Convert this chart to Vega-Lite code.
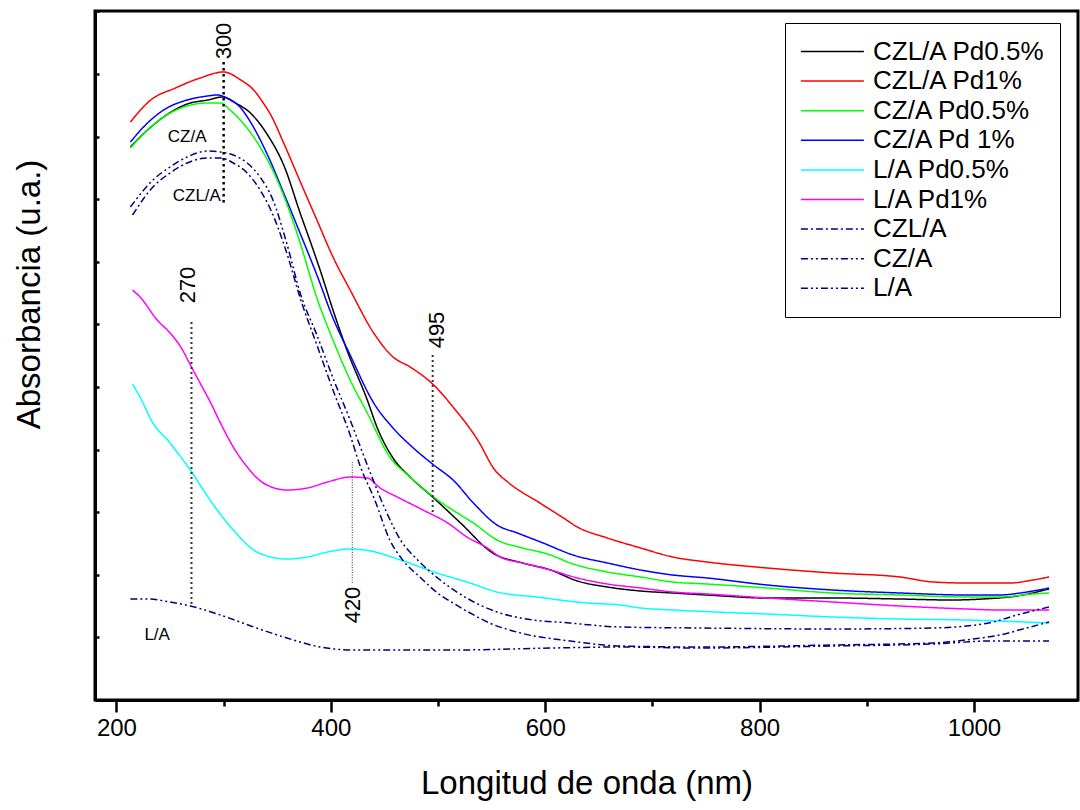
{
  "$schema": "https://vega.github.io/schema/vega-lite/v6.json",
  "width": 983,
  "height": 689,
  "autosize": "none",
  "padding": {"left": 95, "top": 11, "right": 2, "bottom": 110},
  "background": "white",
  "config": {
    "font": "Liberation Sans",
    "view": {"stroke": "black", "strokeWidth": 3},
    "axis": {"domainColor": "black", "domainWidth": 3, "tickColor": "black", "tickWidth": 2.5, "grid": false, "labelColor": "black", "titleColor": "black", "titleFontWeight": "normal", "labelFont": "Liberation Sans", "titleFont": "Liberation Sans"}
  },
  "datasets": {
    "spectra": [
      {"s":"CZL/A Pd1%","x":213,"y":578},{"s":"CZL/A Pd1%","x":232,"y":600},{"s":"CZL/A Pd1%","x":255,"y":612},{"s":"CZL/A Pd1%","x":278,"y":622},{"s":"CZL/A Pd1%","x":300,"y":628},{"s":"CZL/A Pd1%","x":316,"y":620},{"s":"CZL/A Pd1%","x":328,"y":610},{"s":"CZL/A Pd1%","x":337,"y":597},{"s":"CZL/A Pd1%","x":344,"y":585},{"s":"CZL/A Pd1%","x":356,"y":557},{"s":"CZL/A Pd1%","x":372,"y":517},{"s":"CZL/A Pd1%","x":387,"y":480},{"s":"CZL/A Pd1%","x":402,"y":443},{"s":"CZL/A Pd1%","x":418,"y":410},{"s":"CZL/A Pd1%","x":440,"y":367},{"s":"CZL/A Pd1%","x":458,"y":343},{"s":"CZL/A Pd1%","x":474,"y":333},{"s":"CZL/A Pd1%","x":496,"y":315},{"s":"CZL/A Pd1%","x":514,"y":293},{"s":"CZL/A Pd1%","x":537,"y":260},{"s":"CZL/A Pd1%","x":553,"y":230},{"s":"CZL/A Pd1%","x":565,"y":218},{"s":"CZL/A Pd1%","x":595,"y":197},{"s":"CZL/A Pd1%","x":617,"y":182},{"s":"CZL/A Pd1%","x":630,"y":173},{"s":"CZL/A Pd1%","x":658,"y":162},{"s":"CZL/A Pd1%","x":689,"y":152},{"s":"CZL/A Pd1%","x":719,"y":143},{"s":"CZL/A Pd1%","x":751,"y":138},{"s":"CZL/A Pd1%","x":807,"y":132},{"s":"CZL/A Pd1%","x":868,"y":127},{"s":"CZL/A Pd1%","x":931,"y":123},{"s":"CZL/A Pd1%","x":962,"y":118},{"s":"CZL/A Pd1%","x":993,"y":117},{"s":"CZL/A Pd1%","x":1034,"y":117},{"s":"CZL/A Pd1%","x":1055,"y":120},{"s":"CZL/A Pd1%","x":1070,"y":123},

      {"s":"CZL/A Pd0.5%","x":213,"y":553},{"s":"CZL/A Pd0.5%","x":229,"y":570},{"s":"CZL/A Pd0.5%","x":244,"y":583},{"s":"CZL/A Pd0.5%","x":266,"y":596},{"s":"CZL/A Pd0.5%","x":285,"y":600},{"s":"CZL/A Pd0.5%","x":299,"y":603},{"s":"CZL/A Pd0.5%","x":311,"y":597},{"s":"CZL/A Pd0.5%","x":325,"y":587},{"s":"CZL/A Pd0.5%","x":341,"y":565},{"s":"CZL/A Pd0.5%","x":356,"y":535},{"s":"CZL/A Pd0.5%","x":372,"y":485},{"s":"CZL/A Pd0.5%","x":381,"y":458},{"s":"CZL/A Pd0.5%","x":390,"y":430},{"s":"CZL/A Pd0.5%","x":402,"y":390},{"s":"CZL/A Pd0.5%","x":415,"y":350},{"s":"CZL/A Pd0.5%","x":434,"y":300},{"s":"CZL/A Pd0.5%","x":443,"y":273},{"s":"CZL/A Pd0.5%","x":458,"y":242},{"s":"CZL/A Pd0.5%","x":474,"y":223},{"s":"CZL/A Pd0.5%","x":496,"y":202},{"s":"CZL/A Pd0.5%","x":521,"y":177},{"s":"CZL/A Pd0.5%","x":551,"y":147},{"s":"CZL/A Pd0.5%","x":579,"y":137},{"s":"CZL/A Pd0.5%","x":605,"y":130},{"s":"CZL/A Pd0.5%","x":630,"y":119},{"s":"CZL/A Pd0.5%","x":658,"y":113},{"s":"CZL/A Pd0.5%","x":689,"y":109},{"s":"CZL/A Pd0.5%","x":719,"y":107},{"s":"CZL/A Pd0.5%","x":751,"y":105},{"s":"CZL/A Pd0.5%","x":807,"y":102},{"s":"CZL/A Pd0.5%","x":868,"y":102},{"s":"CZL/A Pd0.5%","x":931,"y":101},{"s":"CZL/A Pd0.5%","x":978,"y":100},{"s":"CZL/A Pd0.5%","x":1008,"y":101},{"s":"CZL/A Pd0.5%","x":1040,"y":104},{"s":"CZL/A Pd0.5%","x":1070,"y":111},

      {"s":"CZ/A Pd 1%","x":213,"y":558},{"s":"CZ/A Pd 1%","x":229,"y":577},{"s":"CZ/A Pd 1%","x":244,"y":590},{"s":"CZ/A Pd 1%","x":266,"y":600},{"s":"CZ/A Pd 1%","x":285,"y":604},{"s":"CZ/A Pd 1%","x":294,"y":605},{"s":"CZ/A Pd 1%","x":303,"y":602},{"s":"CZ/A Pd 1%","x":316,"y":592},{"s":"CZ/A Pd 1%","x":325,"y":578},{"s":"CZ/A Pd 1%","x":341,"y":545},{"s":"CZ/A Pd 1%","x":356,"y":507},{"s":"CZ/A Pd 1%","x":372,"y":465},{"s":"CZ/A Pd 1%","x":387,"y":425},{"s":"CZ/A Pd 1%","x":402,"y":382},{"s":"CZ/A Pd 1%","x":418,"y":345},{"s":"CZ/A Pd 1%","x":440,"y":297},{"s":"CZ/A Pd 1%","x":458,"y":272},{"s":"CZ/A Pd 1%","x":477,"y":252},{"s":"CZ/A Pd 1%","x":496,"y":235},{"s":"CZ/A Pd 1%","x":514,"y":220},{"s":"CZ/A Pd 1%","x":533,"y":197},{"s":"CZ/A Pd 1%","x":555,"y":175},{"s":"CZ/A Pd 1%","x":574,"y":167},{"s":"CZ/A Pd 1%","x":598,"y":157},{"s":"CZ/A Pd 1%","x":626,"y":145},{"s":"CZ/A Pd 1%","x":658,"y":137},{"s":"CZ/A Pd 1%","x":689,"y":130},{"s":"CZ/A Pd 1%","x":719,"y":125},{"s":"CZ/A Pd 1%","x":751,"y":122},{"s":"CZ/A Pd 1%","x":807,"y":115},{"s":"CZ/A Pd 1%","x":868,"y":110},{"s":"CZ/A Pd 1%","x":931,"y":107},{"s":"CZ/A Pd 1%","x":993,"y":105},{"s":"CZ/A Pd 1%","x":1024,"y":105},{"s":"CZ/A Pd 1%","x":1043,"y":107},{"s":"CZ/A Pd 1%","x":1055,"y":109},{"s":"CZ/A Pd 1%","x":1070,"y":112},

      {"s":"CZ/A Pd0.5%","x":213,"y":552},{"s":"CZ/A Pd0.5%","x":229,"y":570},{"s":"CZ/A Pd0.5%","x":244,"y":583},{"s":"CZ/A Pd0.5%","x":266,"y":594},{"s":"CZ/A Pd0.5%","x":285,"y":597},{"s":"CZ/A Pd0.5%","x":297,"y":597},{"s":"CZ/A Pd0.5%","x":306,"y":590},{"s":"CZ/A Pd0.5%","x":318,"y":577},{"s":"CZ/A Pd0.5%","x":334,"y":553},{"s":"CZ/A Pd0.5%","x":350,"y":520},{"s":"CZ/A Pd0.5%","x":365,"y":478},{"s":"CZ/A Pd0.5%","x":372,"y":455},{"s":"CZ/A Pd0.5%","x":387,"y":402},{"s":"CZ/A Pd0.5%","x":402,"y":360},{"s":"CZ/A Pd0.5%","x":418,"y":320},{"s":"CZ/A Pd0.5%","x":434,"y":287},{"s":"CZ/A Pd0.5%","x":455,"y":243},{"s":"CZ/A Pd0.5%","x":474,"y":223},{"s":"CZ/A Pd0.5%","x":496,"y":203},{"s":"CZ/A Pd0.5%","x":521,"y":185},{"s":"CZ/A Pd0.5%","x":533,"y":177},{"s":"CZ/A Pd0.5%","x":555,"y":160},{"s":"CZ/A Pd0.5%","x":579,"y":152},{"s":"CZ/A Pd0.5%","x":602,"y":146},{"s":"CZ/A Pd0.5%","x":626,"y":136},{"s":"CZ/A Pd0.5%","x":658,"y":128},{"s":"CZ/A Pd0.5%","x":689,"y":123},{"s":"CZ/A Pd0.5%","x":719,"y":118},{"s":"CZ/A Pd0.5%","x":751,"y":116},{"s":"CZ/A Pd0.5%","x":807,"y":112},{"s":"CZ/A Pd0.5%","x":868,"y":107},{"s":"CZ/A Pd0.5%","x":931,"y":105},{"s":"CZ/A Pd0.5%","x":993,"y":103},{"s":"CZ/A Pd0.5%","x":1024,"y":103},{"s":"CZ/A Pd0.5%","x":1055,"y":106},{"s":"CZ/A Pd0.5%","x":1070,"y":107},

      {"s":"L/A Pd0.5%","x":215,"y":316},{"s":"L/A Pd0.5%","x":222,"y":303},{"s":"L/A Pd0.5%","x":234,"y":277},{"s":"L/A Pd0.5%","x":250,"y":257},{"s":"L/A Pd0.5%","x":260,"y":243},{"s":"L/A Pd0.5%","x":269,"y":230},{"s":"L/A Pd0.5%","x":281,"y":210},{"s":"L/A Pd0.5%","x":294,"y":190},{"s":"L/A Pd0.5%","x":309,"y":170},{"s":"L/A Pd0.5%","x":328,"y":150},{"s":"L/A Pd0.5%","x":344,"y":143},{"s":"L/A Pd0.5%","x":359,"y":141},{"s":"L/A Pd0.5%","x":378,"y":143},{"s":"L/A Pd0.5%","x":397,"y":148},{"s":"L/A Pd0.5%","x":418,"y":151},{"s":"L/A Pd0.5%","x":437,"y":149},{"s":"L/A Pd0.5%","x":465,"y":140},{"s":"L/A Pd0.5%","x":499,"y":127},{"s":"L/A Pd0.5%","x":530,"y":117},{"s":"L/A Pd0.5%","x":555,"y":108},{"s":"L/A Pd0.5%","x":592,"y":103},{"s":"L/A Pd0.5%","x":639,"y":97},{"s":"L/A Pd0.5%","x":670,"y":95},{"s":"L/A Pd0.5%","x":689,"y":92},{"s":"L/A Pd0.5%","x":719,"y":90},{"s":"L/A Pd0.5%","x":782,"y":87},{"s":"L/A Pd0.5%","x":807,"y":86},{"s":"L/A Pd0.5%","x":868,"y":83},{"s":"L/A Pd0.5%","x":931,"y":81},{"s":"L/A Pd0.5%","x":993,"y":80},{"s":"L/A Pd0.5%","x":1070,"y":77},

      {"s":"L/A Pd1%","x":215,"y":410},{"s":"L/A Pd1%","x":222,"y":403},{"s":"L/A Pd1%","x":238,"y":380},{"s":"L/A Pd1%","x":250,"y":367},{"s":"L/A Pd1%","x":260,"y":353},{"s":"L/A Pd1%","x":269,"y":335},{"s":"L/A Pd1%","x":278,"y":317},{"s":"L/A Pd1%","x":288,"y":297},{"s":"L/A Pd1%","x":297,"y":277},{"s":"L/A Pd1%","x":309,"y":253},{"s":"L/A Pd1%","x":322,"y":233},{"s":"L/A Pd1%","x":337,"y":217},{"s":"L/A Pd1%","x":359,"y":210},{"s":"L/A Pd1%","x":378,"y":212},{"s":"L/A Pd1%","x":397,"y":218},{"s":"L/A Pd1%","x":418,"y":223},{"s":"L/A Pd1%","x":434,"y":222},{"s":"L/A Pd1%","x":446,"y":212},{"s":"L/A Pd1%","x":462,"y":203},{"s":"L/A Pd1%","x":486,"y":190},{"s":"L/A Pd1%","x":509,"y":177},{"s":"L/A Pd1%","x":527,"y":163},{"s":"L/A Pd1%","x":546,"y":152},{"s":"L/A Pd1%","x":558,"y":143},{"s":"L/A Pd1%","x":579,"y":137},{"s":"L/A Pd1%","x":605,"y":130},{"s":"L/A Pd1%","x":630,"y":122},{"s":"L/A Pd1%","x":658,"y":116},{"s":"L/A Pd1%","x":689,"y":112},{"s":"L/A Pd1%","x":719,"y":108},{"s":"L/A Pd1%","x":751,"y":106},{"s":"L/A Pd1%","x":807,"y":102},{"s":"L/A Pd1%","x":868,"y":98},{"s":"L/A Pd1%","x":931,"y":94},{"s":"L/A Pd1%","x":993,"y":91},{"s":"L/A Pd1%","x":1024,"y":90},{"s":"L/A Pd1%","x":1070,"y":90},

      {"s":"CZ/A","x":213,"y":493},{"s":"CZ/A","x":234,"y":520},{"s":"CZ/A","x":250,"y":533},{"s":"CZ/A","x":266,"y":543},{"s":"CZ/A","x":285,"y":549},{"s":"CZ/A","x":297,"y":548},{"s":"CZ/A","x":309,"y":545},{"s":"CZ/A","x":322,"y":537},{"s":"CZ/A","x":334,"y":523},{"s":"CZ/A","x":346,"y":500},{"s":"CZ/A","x":358,"y":460},{"s":"CZ/A","x":372,"y":405},{"s":"CZ/A","x":387,"y":365},{"s":"CZ/A","x":402,"y":322},{"s":"CZ/A","x":418,"y":280},{"s":"CZ/A","x":434,"y":235},{"s":"CZ/A","x":451,"y":190},{"s":"CZ/A","x":465,"y":160},{"s":"CZ/A","x":481,"y":140},{"s":"CZ/A","x":502,"y":120},{"s":"CZ/A","x":530,"y":100},{"s":"CZ/A","x":555,"y":88},{"s":"CZ/A","x":577,"y":82},{"s":"CZ/A","x":623,"y":77},{"s":"CZ/A","x":670,"y":73},{"s":"CZ/A","x":744,"y":72},{"s":"CZ/A","x":868,"y":71},{"s":"CZ/A","x":962,"y":72},{"s":"CZ/A","x":993,"y":74},{"s":"CZ/A","x":1018,"y":78},{"s":"CZ/A","x":1040,"y":85},{"s":"CZ/A","x":1070,"y":93},

      {"s":"CZL/A","x":215,"y":485},{"s":"CZL/A","x":234,"y":513},{"s":"CZL/A","x":250,"y":527},{"s":"CZL/A","x":266,"y":537},{"s":"CZL/A","x":285,"y":542},{"s":"CZL/A","x":297,"y":542},{"s":"CZL/A","x":309,"y":537},{"s":"CZL/A","x":322,"y":527},{"s":"CZL/A","x":334,"y":510},{"s":"CZL/A","x":344,"y":490},{"s":"CZL/A","x":358,"y":450},{"s":"CZL/A","x":372,"y":400},{"s":"CZL/A","x":387,"y":355},{"s":"CZL/A","x":402,"y":310},{"s":"CZL/A","x":418,"y":265},{"s":"CZL/A","x":427,"y":235},{"s":"CZL/A","x":441,"y":200},{"s":"CZL/A","x":455,"y":160},{"s":"CZL/A","x":467,"y":140},{"s":"CZL/A","x":483,"y":123},{"s":"CZL/A","x":502,"y":105},{"s":"CZL/A","x":514,"y":97},{"s":"CZL/A","x":530,"y":87},{"s":"CZL/A","x":546,"y":78},{"s":"CZL/A","x":577,"y":67},{"s":"CZL/A","x":623,"y":59},{"s":"CZL/A","x":670,"y":54},{"s":"CZL/A","x":744,"y":53},{"s":"CZL/A","x":868,"y":55},{"s":"CZL/A","x":962,"y":57},{"s":"CZL/A","x":999,"y":61},{"s":"CZL/A","x":1024,"y":65},{"s":"CZL/A","x":1049,"y":72},{"s":"CZL/A","x":1070,"y":78},

      {"s":"L/A","x":213,"y":101},{"s":"L/A","x":229,"y":101},{"s":"L/A","x":250,"y":98},{"s":"L/A","x":269,"y":94},{"s":"L/A","x":297,"y":85},{"s":"L/A","x":328,"y":73},{"s":"L/A","x":359,"y":62},{"s":"L/A","x":390,"y":53},{"s":"L/A","x":421,"y":50},{"s":"L/A","x":514,"y":50},{"s":"L/A","x":607,"y":52},{"s":"L/A","x":670,"y":53},{"s":"L/A","x":744,"y":52},{"s":"L/A","x":868,"y":54},{"s":"L/A","x":962,"y":56},{"s":"L/A","x":1015,"y":59},{"s":"L/A","x":1070,"y":59}
    ],
    "ann": [
      {"k":"300","x":300,"y":638,"y2":497,"tx":300,"ty":659},
      {"k":"270","x":270,"y":378,"y2":94,"tx":267,"ty":415},
      {"k":"495","x":495,"y":345,"y2":185,"tx":499,"ty":370},
      {"k":"420","x":420,"y":238,"y2":117,"tx":421,"ty":95}
    ],
    "labels": [
      {"t":"CZ/A","x":266,"y":563},
      {"t":"CZL/A","x":275,"y":504},
      {"t":"L/A","x":238,"y":65}
    ]
  },
  "layer": [
    {
      "data": {"name": "spectra"},
      "mark": {"type": "line", "strokeWidth": 1.5, "interpolate": "monotone"},
      "encoding": {
        "x": {"field": "x", "type": "quantitative",
          "scale": {"domain": [180, 1097], "nice": false, "zero": false},
          "axis": {"title": "Longitud de onda (nm)", "values": [200,300,400,500,600,700,800,900,1000], "format": "d",
            "labelExpr": "datum.value % 200 === 0 ? datum.label : ''",
            "labelFontSize": 24, "labelPadding": 4,
            "tickSize": {"condition": {"test": "datum.value % 200 === 0", "value": 12}, "value": 6},
            "titleFontSize": 33, "titlePadding": 27}},
        "y": {"field": "y", "type": "quantitative",
          "scale": {"domain": [0, 689], "nice": false, "zero": false},
          "axis": {"title": "Absorbancia (u.a.)", "labels": false,
            "values": [0,31.3,62.6,93.9,125.2,156.5,187.8,219.1,250.4,281.7,313,344.3,375.6,406.9,438.2,469.5,500.8,532.1,563.4,594.7,626,657.3,688.6],
            "tickSize": -4, "titleFontSize": 33, "titleAngle": 270, "titleX": -66, "titleY": 283, "titleAlign": "center", "titleBaseline": "middle"}},
        "color": {"field": "s", "type": "nominal",
          "scale": {"domain": ["CZL/A Pd0.5%","CZL/A Pd1%","CZ/A Pd0.5%","CZ/A Pd 1%","L/A Pd0.5%","L/A Pd1%","CZL/A","CZ/A","L/A"],
                    "range": ["#000000","#ff0000","#00ff00","#0000ff","#00ffff","#ff00ff","#000080","#000080","#000080"]},
          "legend": {"title": null, "orient": "none", "legendX": 690, "legendY": 12, "symbolType": "M-1,0H4", "symbolSize": 635, "symbolStrokeWidth": 1.5, "labelFontSize": 26, "labelFont": "Liberation Sans", "labelColor": "black", "labelOffset": 46, "labelLimit": 0, "strokeColor": "black", "fillColor": "white", "padding": 15, "rowPadding": 2.6}},
        "strokeDash": {"field": "s", "type": "nominal",
          "scale": {"domain": ["CZL/A Pd0.5%","CZL/A Pd1%","CZ/A Pd0.5%","CZ/A Pd 1%","L/A Pd0.5%","L/A Pd1%","CZL/A","CZ/A","L/A"],
                    "range": [[1,0],[1,0],[1,0],[1,0],[1,0],[1,0],[7,3,2,3],[7,3,2,3,2,3],[7,3,2,3,2,3]]},
          "legend": {"title": null, "orient": "none", "legendX": 690, "legendY": 12, "symbolType": "M-1,0H4", "symbolSize": 635, "symbolStrokeWidth": 1.5, "labelFontSize": 26, "labelFont": "Liberation Sans", "labelColor": "black", "labelOffset": 46, "labelLimit": 0, "strokeColor": "black", "fillColor": "white", "padding": 15, "rowPadding": 2.6}}
      }
    },
    {
      "data": {"name": "ann"},
      "transform": [{"filter": "datum.k === '300'"}],
      "mark": {"type": "rule", "strokeDash": [2.5, 3.5], "strokeWidth": 2.5, "color": "black"},
      "encoding": {
        "x": {"field": "x", "type": "quantitative"},
        "y": {"field": "y", "type": "quantitative"},
        "y2": {"field": "y2"}
      }
    },
    {
      "data": {"name": "ann"},
      "transform": [{"filter": "datum.k === '270' || datum.k === '495'"}],
      "mark": {"type": "rule", "strokeDash": [2, 3], "strokeWidth": 2, "color": "#333333"},
      "encoding": {
        "x": {"field": "x", "type": "quantitative"},
        "y": {"field": "y", "type": "quantitative"},
        "y2": {"field": "y2"}
      }
    },
    {
      "data": {"name": "ann"},
      "transform": [{"filter": "datum.k === '420'"}],
      "mark": {"type": "rule", "strokeDash": [1, 1.5], "strokeWidth": 1, "color": "#333333"},
      "encoding": {
        "x": {"field": "x", "type": "quantitative"},
        "y": {"field": "y", "type": "quantitative"},
        "y2": {"field": "y2"}
      }
    },
    {
      "data": {"name": "ann"},
      "mark": {"type": "text", "angle": 270, "fontSize": 22, "font": "Liberation Sans", "align": "center", "baseline": "middle", "color": "black"},
      "encoding": {
        "x": {"field": "tx", "type": "quantitative"},
        "y": {"field": "ty", "type": "quantitative"},
        "text": {"field": "k"}
      }
    },
    {
      "data": {"name": "labels"},
      "mark": {"type": "text", "fontSize": 17, "font": "Liberation Sans", "align": "center", "baseline": "middle", "color": "black"},
      "encoding": {
        "x": {"field": "x", "type": "quantitative"},
        "y": {"field": "y", "type": "quantitative"},
        "text": {"field": "t"}
      }
    }
  ]
}
